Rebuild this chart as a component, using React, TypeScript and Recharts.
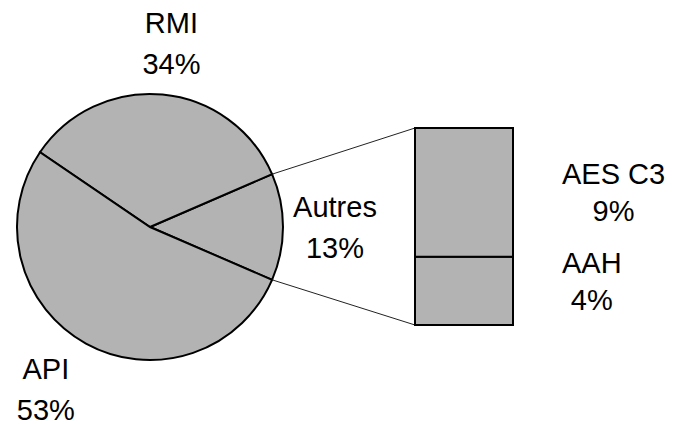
import React from 'react';
import { PieChart, Pie, Cell, BarChart, Bar, XAxis, YAxis, LabelList } from 'recharts';

const W = 674;
const H = 424;

// pie slices, counter-clockwise from 3 o'clock
const PIE_NAMES = ['Autres', 'RMI', 'API'];
const PIE_VALUES = [13, 34, 53];

// breakdown of "Autres", bottom to top
const BAR_NAMES = ['AAH', 'AES C3'];
const BAR_VALUES = [4.5, 8.5];
const BAR_LABELS = ['4%', '9%'];

const FONT = '"Liberation Sans", Arial, sans-serif';
const FONT_SIZE = 29;
const FILL = '#b3b3b3';
const RAD = Math.PI / 180;

const PIE_CX = 150;
const PIE_CY = 227;
const PIE_R = 133;
const PIE_TOTAL = PIE_VALUES.reduce((a, b) => a + b, 0);
const START = -(PIE_VALUES[0] / PIE_TOTAL) * 180;

const BAR_BOX = { left: 415, top: 128, width: 98, height: 197 };

const LABEL_NUDGE: Record<string, { dx: number; dy: number }> = {
  RMI: { dx: 4, dy: 0 },
  API: { dx: -15, dy: 0 },
  AAH: { dx: 0, dy: -10 },
};

const pieData = PIE_NAMES.map((name, i) => ({ name, value: PIE_VALUES[i] }));
const barRow: Record<string, any> = { name: 'Autres' };
BAR_NAMES.forEach((n, i) => { barRow[n] = BAR_VALUES[i]; });
const barData = [barRow];

let ctx: CanvasRenderingContext2D | null = null;
function textWidth(s: string) {
  if (!ctx) ctx = document.createElement('canvas').getContext('2d');
  if (!ctx) return s.length * FONT_SIZE * 0.55;
  ctx.font = `${FONT_SIZE}px ${FONT}`;
  return ctx.measureText(s).width;
}

function PieLabel(props: any) {
  const { cx, cy, midAngle, outerRadius, value } = props;
  const name = props.payload?.name ?? props.name;
  const nudge = LABEL_NUDGE[name] || { dx: 0, dy: 0 };
  const r = outerRadius + 52;
  const x = cx + r * Math.cos(-midAngle * RAD) + nudge.dx;
  const y = cy + r * Math.sin(-midAngle * RAD) + nudge.dy;
  return (
    <text textAnchor="middle" fill="#000" fontFamily={FONT} fontSize={FONT_SIZE}>
      <tspan x={x} y={y - 10}>{name}</tspan>
      <tspan x={x} y={y + 31}>{value}%</tspan>
    </text>
  );
}

const barLabel = (name: string, pct: string) => (props: any) => {
  const { x, y, width, height } = props;
  const nudge = LABEL_NUDGE[name] || { dx: 0, dy: 0 };
  const w = Math.max(textWidth(name), textWidth(pct));
  const tx = x + width + 49 + w / 2 + nudge.dx;
  const ty = y + height / 2 + nudge.dy;
  return (
    <text textAnchor="middle" fill="#000" fontFamily={FONT} fontSize={FONT_SIZE}>
      <tspan x={tx} y={ty - 8}>{name}</tspan>
      <tspan x={tx} y={ty + 29}>{pct}</tspan>
    </text>
  );
};

export default function App() {
  const p1 = {
    x: PIE_CX + PIE_R * Math.cos(START * RAD),
    y: PIE_CY - PIE_R * Math.sin(-START * RAD),
  };
  const p2 = {
    x: PIE_CX + PIE_R * Math.cos(START * RAD),
    y: PIE_CY + PIE_R * Math.sin(-START * RAD),
  };

  return (
    <div style={{ position: 'absolute', left: 0, top: 0, width: W, height: H, background: '#fff' }}>
      <div style={{ position: 'absolute', left: 0, top: 0 }}>
        <PieChart width={W} height={H} margin={{ top: 0, right: 0, bottom: 0, left: 0 }}>
          <Pie
            data={pieData}
            dataKey="value"
            nameKey="name"
            cx={PIE_CX}
            cy={PIE_CY}
            outerRadius={PIE_R}
            startAngle={START}
            endAngle={START + 360}
            stroke="#000"
            strokeWidth={2}
            label={PieLabel}
            labelLine={false}
            isAnimationActive={false}
          >
            {pieData.map((d) => <Cell key={d.name} fill={FILL} />)}
          </Pie>
        </PieChart>
      </div>

      <svg width={W} height={H} style={{ position: 'absolute', left: 0, top: 0 }}>
        <line x1={p1.x} y1={p1.y} x2={BAR_BOX.left} y2={BAR_BOX.top} stroke="#222" strokeWidth={1} />
        <line x1={p2.x} y1={p2.y} x2={BAR_BOX.left} y2={BAR_BOX.top + BAR_BOX.height} stroke="#222" strokeWidth={1} />
      </svg>

      <div style={{ position: 'absolute', left: 0, top: 0 }}>
        <BarChart
          width={W}
          height={H}
          data={barData}
          barCategoryGap={0}
          margin={{
            top: BAR_BOX.top,
            left: BAR_BOX.left,
            right: W - BAR_BOX.left - BAR_BOX.width,
            bottom: H - BAR_BOX.top - BAR_BOX.height,
          }}
        >
          <XAxis dataKey="name" hide />
          <YAxis hide domain={[0, BAR_VALUES.reduce((a, b) => a + b, 0)]} />
          {BAR_NAMES.map((n, i) => (
            <Bar key={n} dataKey={n} stackId="a" fill={FILL} stroke="#000" strokeWidth={2} isAnimationActive={false}>
              <LabelList dataKey={n} content={barLabel(n, BAR_LABELS[i])} />
            </Bar>
          ))}
        </BarChart>
      </div>
    </div>
  );
}
